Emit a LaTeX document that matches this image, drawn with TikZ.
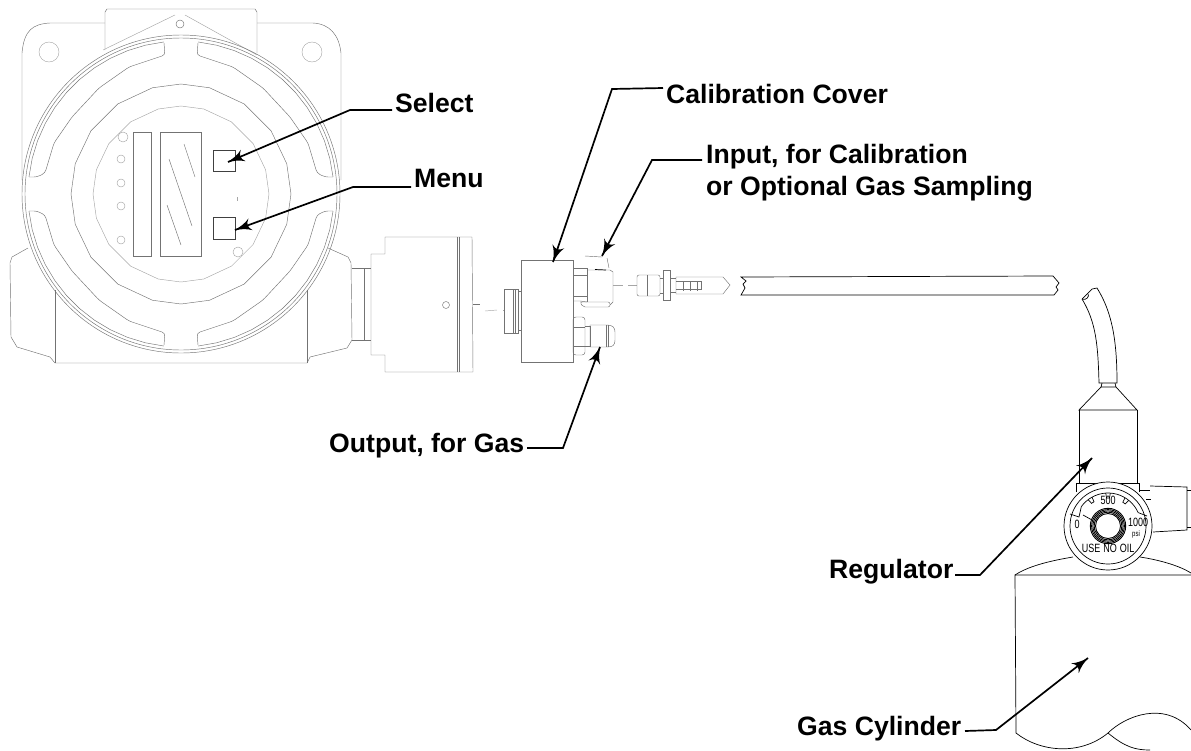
\documentclass[tikz,border=0pt]{standalone}
\usepackage{fontspec}
\setmainfont{Liberation Sans}
\usetikzlibrary{arrows}
\usetikzlibrary{decorations.markings}
\tikzset{leader/.style = {line width = 1.7, decoration = {markings,
                                  mark = at position 1 with {\arrow[scale = 2.1]{latex'}}},
                      postaction = {decorate}}}
\tikzset{part/.style = {draw = black!55, line width = 0.45}}
\tikzset{faint/.style = {draw = black!35, line width = 0.45}}
\tikzset{regline/.style = {draw = black, line width = 0.7}}
\tikzset{calltext/.style = {anchor = base west, inner sep = 0, align = left, font = \fontsize{26.6}{32}\selectfont\bfseries}}
\tikzset{dialtext/.style = {inner sep = 0, xscale = 0.75, transform shape, font = \fontsize{12}{14}\selectfont}}
\tikzset{ringfacets/.style = {samples at = {0, 16, 35, 55, 75, 90, 105, 125, 145, 164, 180, 196, 215, 235, 255, 270, 285, 305, 325, 344}}}
\begin{document}
\begin{tikzpicture}[x = 1pt, y = -1pt]
      \useasboundingbox (0, 0) rectangle (1191, 750);

      \draw [part] (105, 50) -- (105, 12) -- (107, 9) -- (255, 9) -- (257, 12) -- (257, 53);
      \draw [part] (105, 23) -- (50, 23) .. controls (33, 24) and (24, 30) .. (22, 53) -- (22, 180);
      \draw [part] (257, 23) -- (313, 23) .. controls (330, 24) and (339, 35) .. (341, 53) -- (341, 180);
      \draw [part] (28, 248) -- (12, 257) -- (10, 263) -- (11, 337) -- (17, 347) -- (50, 357) -- (55, 363) -- (307, 363) -- (310, 357) -- (347, 348) -- (352, 340) -- (351, 263) -- (348, 257) -- (328, 248);
      \draw [part] (55, 290) -- (55, 363);
      \draw [part] (307, 290) -- (307, 363);
      \draw [faint] (103, 50) -- (175, 15);
      \draw [faint] (185, 15) -- (257, 55);
      \draw [part] (180, 24) circle [radius = 4];
      \draw [faint] (49, 52) circle [radius = 10];
      \draw [faint] (312, 52) circle [radius = 10];
      \begin{scope}[shift = {(181, 194)}]
        \draw [part] (0, 0) circle [radius = 159];
        \draw [part] (0, 0) circle [radius = 156];
        \draw [part] plot [ringfacets] (\x:110) -- cycle;
        \draw [faint] plot [ringfacets] (\x:88) -- cycle;
        \foreach \sx/\sy in {1/1, -1/1, 1/-1, -1/-1} {
          \begin{scope}[xscale = \sx, yscale = \sy]
            \draw [part, rounded corners = 3] (17, -151) -- (16, -139) -- (52, -127) -- (82, -106) -- (109, -77) -- (127, -51) -- (136, -21) -- (144, -17) -- (152, -17);
            \draw [part] plot [domain = -6.4:-83.6, samples = 12] (\x:153);
          \end{scope}
        }
      \end{scope}
      \draw [part] (133.5, 132.5) rectangle (151, 256);
      \draw [part] (160, 132.5) rectangle (201, 256);
      \draw [part] (184, 144) -- (195, 177);
      \draw [part] (169, 159) -- (192, 226);
      \draw [part] (167, 205) -- (181, 245);
      \foreach \lx/\ly/\lr in {123/137/5, 121/159/4, 121/183/4, 121/206/4, 121/240/4, 238/252/5} {
        \draw [faint] (\lx, \ly) circle [radius = \lr];
      }
      \draw [faint] (237, 197) -- (237, 201);
      \draw [black!75, line width = 1] (213, 150) rectangle (235, 171);
      \draw [black!75, line width = 1] (213, 217.5) rectangle (235, 239);

      \draw [part] (352, 268) -- (371, 268);
      \draw [part] (352, 340) -- (371, 340);
      \draw [part] (364, 268) -- (364, 340);
      \draw [part] (371, 268) -- (371, 254) -- (385, 254) -- (385, 237) -- (457, 237) -- (472, 237) -- (473, 372) -- (385, 372) -- (385, 355) -- (371, 355) -- (371, 268);
      \draw [part] (457, 237) -- (457, 372);
      \draw [part] (459, 237) -- (459, 372);
      \draw [part] (446, 305) circle [radius = 3.5];
      \draw [part] (473, 304) -- (480, 304);
      \draw [faint] (485, 311) -- (497, 310);
      \draw [faint] (503, 310) -- (505, 310);

      \draw [part] (504, 289) rectangle (518, 333);
      \draw [part] (513, 289) -- (513, 333);
      \draw [part] (515, 289) -- (515, 333);
      \draw [part] (518, 291) -- (521, 291);
      \draw [part] (518, 330) -- (521, 330);
      \draw [part] (521, 260) rectangle (573, 362);
      \draw [part] (573, 268) -- (587, 268);
      \draw [part] (573, 275) -- (587, 275);
      \draw [part] (573, 296) -- (587, 296);
      \draw [part] (573, 301) -- (580, 301) -- (587, 302);
      \draw [part] (587, 268) -- (587, 302);
      \draw [part] (587, 270) -- (610, 270) -- (613, 272) -- (613, 302) -- (610, 305);
      \draw [black, line width = 0.7] (595, 269.5) -- (606, 270);
      \draw [part, rounded corners = 2] (580, 302) -- (610, 302) -- (610, 307) -- (583, 307) -- cycle;
      \draw [part] (585, 256) -- (602, 257);
      \draw [part] (607, 258) -- (609, 268);
      \draw [faint] (613, 285) -- (623, 285);
      \draw [faint] (628, 285) -- (637, 285);

      \draw [part, rounded corners = 2] (637, 296) -- (637, 275) -- (660, 275) -- (660, 296) -- cycle;
      \draw [part] (647, 275) -- (647, 296);
      \draw [part] (663, 270) rectangle (670, 300);
      \draw [part] (660, 278) -- (663, 278);
      \draw [part] (660, 293) -- (663, 293);
      \draw [part] (670, 278) -- (676, 278);
      \draw [part] (670, 292) -- (676, 292);
      \draw [part] (676, 277) -- (723, 277) -- (730, 285) -- (723, 294) -- (676, 294) -- cycle;
      \draw [part] (676, 281) -- (701, 281) -- (701, 289) -- (676, 289);
      \foreach \bx in {683, 690, 697} {
        \draw [part] (\bx, 281) -- (\bx, 291);
      }
      \draw [regline] (741, 277) -- (1053, 276) -- (1059, 283) -- (1056, 287) -- (1058, 290) -- (1054, 295) -- (741, 295) -- (745, 288) -- (743, 284) -- (746, 281) -- cycle;

      \draw [part, rounded corners = 3] (573, 317) -- (585, 317) -- (585, 355) -- (573, 355) -- cycle;
      \draw [part] (573, 327) -- (585, 327);
      \draw [part] (573, 346) -- (585, 346);
      \draw [part] (585, 326) -- (590, 326) -- (590, 346) -- (585, 346);
      \draw [part] (590, 325) -- (607, 325) .. controls (613, 325) and (615, 328) .. (615, 332) -- (615, 340) .. controls (615, 345) and (613, 347) .. (607, 347) -- (590, 347) -- cycle;
      \draw [part] (606, 325) -- (606, 347);
      \draw [part] (608, 325) -- (608, 347);

      \draw [regline] (1082, 299) .. controls (1096, 322) and (1098, 345) .. (1099, 383) -- (1117, 383) .. controls (1117, 340) and (1112, 312) .. (1097, 288) -- (1092, 289) -- (1082, 299);
      \draw [regline] (1082, 299) .. controls (1086, 301) and (1090, 296) .. (1088, 294);
      \draw [regline] (1102, 383) -- (1101, 387) -- (1116, 387) -- (1115, 383);
      \draw [regline] (1101, 387) -- (1079, 410) -- (1137, 410) -- (1116, 387);
      \draw [regline] (1079, 410) -- (1079, 483);
      \draw [regline] (1137, 410) -- (1137, 483);
      \draw [regline] (1076, 492) -- (1076, 483) -- (1139, 483) -- (1139, 492);
      \draw [regline] (1150, 486) -- (1187, 487) -- (1187, 530) -- (1153, 532);
      \draw [regline] (1187, 490) -- (1191, 490);
      \draw [regline] (1187, 527) -- (1191, 527);
      \draw [regline] (1140, 490) -- (1150, 490);
      \draw [regline] (1146, 499) -- (1151, 499);

      \draw [regline] (1191, 575) -- (1015, 575) -- (1016, 733) .. controls (1040, 752) and (1080, 756) .. (1108, 733) .. controls (1125, 747) and (1135, 750) .. (1150, 750);
      \draw [regline] (1108, 733) .. controls (1125, 716) and (1165, 700) .. (1191, 730);
      \draw [regline] (1015, 575) .. controls (1030, 565) and (1055, 560) .. (1073, 557);
      \draw [regline] (1140, 557) .. controls (1160, 560) and (1180, 566) .. (1191, 573);

      \begin{scope}[shift = {(1108, 526)}]
        \draw [regline, fill = white] (0, 0) circle [radius = 44];
        \draw [regline] (0, 0) circle [radius = 38];
        \draw [regline] plot [domain = -144:-24, samples = 20] (\x:33);
        \draw [regline] (-144:33) -- (-29, -9) -- (-38, -12);
        \draw [regline] (-24:33) -- (39, -10);
        \foreach \a in {-123, -90, -55} {
          \draw [regline] (\a-4:33) -- (\a-3:28) -- (\a+3:28) -- (\a+4:33);
        }
        \draw [regline] (-25, -11) -- (-16, -6);
        \foreach \r in {12.5, 13.8, 15.1, 16.4, 17.7} {
          \draw [black, line width = 0.9] (0, 0) circle [radius = \r];
        }
      \end{scope}
      \node [dialtext] (dialmid) at (1108, 500) {500};
      \node [dialtext] (dialzero) at (1077, 524) {0};
      \node [dialtext] (dialtop) at (1138, 522) {1000};
      \node [dialtext, font = \fontsize{8}{9}\selectfont] (dialunit) at (1136, 534) {psi};
      \node [dialtext] (dialwarn) at (1108, 548) {USE\,\,NO\,\,OIL};

      \node [calltext] (select) at (395, 112) {Select};
      \node [calltext] (menu) at (414, 187) {Menu};
      \node [calltext] (cover) at (666, 103) {Calibration Cover};
      \node [calltext] (input) at (706, 195) {Input, for Calibration\\or Optional Gas Sampling};
      \node [calltext] (output) at (329, 452) {Output, for Gas};
      \node [calltext] (regulator) at (829, 578) {Regulator};
      \node [calltext] (cylinder) at (797, 735) {Gas Cylinder};

      \coordinate (selecttip) at (228, 162);
      \coordinate (menutip) at (235, 230);
      \coordinate (covertip) at (553, 262);
      \coordinate (inputtip) at (602, 256);
      \coordinate (outputtip) at (600, 347);
      \coordinate (regulatortip) at (1092, 458);
      \coordinate (cylindertip) at (1088, 658);

      \draw [leader] ([xshift = -3, yshift = 2]select.base west) -- (350, 110) -- (selecttip);
      \draw [leader] ([xshift = -3]menu.base west) -- (353, 187) -- (menutip);
      \draw [leader] ([xshift = -3, yshift = 15]cover.base west) -- (612, 89) -- (covertip);
      \draw [leader] ([xshift = -4, yshift = 35]input.base west) -- (652, 160) -- (inputtip);
      \draw [leader] ([xshift = 198, yshift = 4]output.base west) -- (563, 448) -- (outputtip);
      \draw [leader] ([xshift = 126, yshift = 3]regulator.base west) -- (980, 575) -- (regulatortip);
      \draw [leader] ([xshift = 168, yshift = 4]cylinder.base west) -- (996, 730) -- (cylindertip);
\end{tikzpicture}
\end{document}
